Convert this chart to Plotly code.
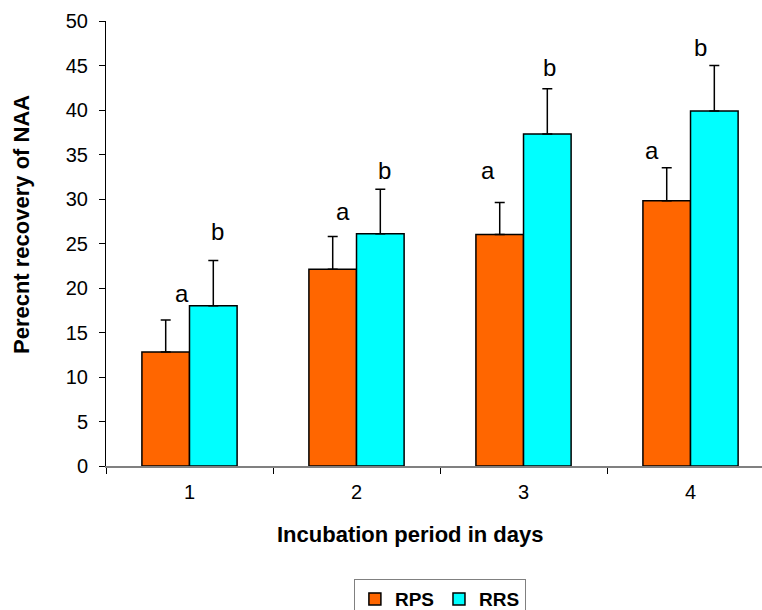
import plotly.graph_objects as go

days = ["1", "2", "3", "4"]
rps = [12.8, 22.1, 26.0, 29.8]
rrs = [18.0, 26.1, 37.3, 39.9]
rps_err = [3.6, 3.7, 3.6, 3.7]
rrs_err = [5.1, 5.0, 5.1, 5.1]

letters = ["a", "b", "a", "b", "a", "b", "a", "b"]
letter_x = [-0.045, 0.17, 0.919, 1.165, 1.786, 2.153, 2.77, 3.06]
letter_y = [19.35, 26.35, 28.55, 33.25, 33.25, 44.75, 35.45, 47.05]

x_title = "Incubation period in days"
y_title = "Perecnt recovery of NAA"

FONT = "Liberation Sans, Arial, sans-serif"

fig = go.Figure()
fig.add_trace(go.Bar(
    name="RPS", x=days, y=rps,
    marker=dict(color="#FF6600", line=dict(color="black", width=1.5)),
    error_y=dict(type="data", array=rps_err, arrayminus=[0] * 4, symmetric=False,
                 color="black", thickness=1.5, width=5),
))
fig.add_trace(go.Bar(
    name="RRS", x=days, y=rrs,
    marker=dict(color="#00FFFF", line=dict(color="black", width=1.5)),
    error_y=dict(type="data", array=rrs_err, arrayminus=[0] * 4, symmetric=False,
                 color="black", thickness=1.5, width=5),
))

for t, xx, yy in zip(letters, letter_x, letter_y):
    fig.add_annotation(x=xx, y=yy, text=t, showarrow=False, xref="x", yref="y",
                       font=dict(family=FONT, size=24, color="black"),
                       xanchor="center", yanchor="middle")

# axis titles (placed as annotations to match the original offsets)
fig.add_annotation(x=0.463, y=-0.155, xref="paper", yref="paper", text=x_title,
                   showarrow=False, xanchor="center", yanchor="middle",
                   font=dict(family=FONT, size=22, color="black", weight="bold"))
fig.add_annotation(x=-0.128, y=0.5416, xref="paper", yref="paper", text=y_title,
                   textangle=-90, showarrow=False, xanchor="center", yanchor="middle",
                   font=dict(family=FONT, size=22, color="black", weight="bold"))

fig.update_layout(
    width=762, height=610,
    margin=dict(l=106, r=0, t=21, b=144, autoexpand=False),
    plot_bgcolor="white", paper_bgcolor="white",
    barmode="group", bargap=0.43, bargroupgap=0,
    font=dict(family=FONT, color="black"),
    legend=dict(orientation="h", x=0.509, xanchor="center", y=-0.254, yanchor="top",
                bordercolor="#808080", borderwidth=1,
                font=dict(family=FONT, size=19, color="black", weight="bold")),
)
fig.update_xaxes(
    type="category", range=[-0.5, 3.428],
    showline=True, linecolor="#808080", linewidth=1.5,
    ticks="outside", tickson="boundaries", ticklen=6, tickcolor="black",
    ticklabelstandoff=7,
    tickfont=dict(family=FONT, size=20, color="black"),
    showgrid=False, zeroline=False,
)
fig.update_yaxes(
    range=[0, 50], dtick=5,
    showline=True, linecolor="black", linewidth=1,
    ticks="outside", ticklen=6, tickcolor="black",
    ticklabelstandoff=7,
    tickfont=dict(family=FONT, size=20, color="black"),
    showgrid=False, zeroline=False,
)

fig.write_html(
    "out.html",
    config={"displayModeBar": False},
    post_script="document.body.style.margin='0';document.body.style.overflow='hidden';",
)
